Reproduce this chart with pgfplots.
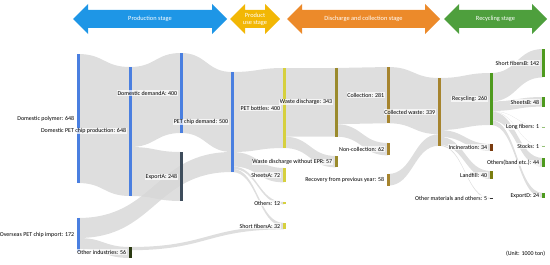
\documentclass[border=0pt]{standalone}
\usepackage{fontspec}
\setmainfont{Carlito}
\usepackage{pgfplots}
\pgfplotsset{compat=1.18}
\definecolor{bandgray}{HTML}{D6D6D6}
\definecolor{cblue}{HTML}{4A7FE0}
\definecolor{cslate}{HTML}{3E4D5C}
\definecolor{cdark}{HTML}{2B3A12}
\definecolor{cyel}{HTML}{D6D03E}
\definecolor{colive}{HTML}{9A8A2C}
\definecolor{cgold}{HTML}{A6842E}
\definecolor{cgreen}{HTML}{4E9A1E}
\definecolor{cbrown}{HTML}{7A3B0E}
\definecolor{cland}{HTML}{7B7D10}
\definecolor{aprod}{HTML}{1E96E6}
\definecolor{ause}{HTML}{F2B705}
\definecolor{adisc}{HTML}{EC8A2A}
\definecolor{arec}{HTML}{4E9F3D}
% link: x1 x2 xm t1 b1 t2 b2
\newcommand\link[7]{%
 \fill[bandgray,fill opacity=0.8] (axis cs:#1,#4) .. controls (axis cs:#3,#4) and (axis cs:#3,#6) .. (axis cs:#2,#6)
   -- (axis cs:#2,#7) .. controls (axis cs:#3,#7) and (axis cs:#3,#5) .. (axis cs:#1,#5) -- cycle;}
% double arrow: x0 x1 colour
\newcommand\stagearrow[3]{%
 \fill[#3] (axis cs:#1,19) -- (axis cs:#1+15,4) -- (axis cs:#1+15,10) -- (axis cs:#2-15,10) -- (axis cs:#2-15,4)
   -- (axis cs:#2,19) -- (axis cs:#2-15,34) -- (axis cs:#2-15,28) -- (axis cs:#1+15,28) -- (axis cs:#1+15,34) -- cycle;}
\tikzset{lab/.style={anchor=east,font=\fontsize{6}{6.5}\selectfont,fill=white,fill opacity=0.7,text opacity=1,inner sep=0.7pt},
 stg/.style={font=\fontsize{6.4}{6.8}\selectfont,text=white,align=center,inner sep=0pt}}
\begin{document}
\begin{tikzpicture}
\begin{axis}[width=550bp,height=264bp,scale only axis,xmin=0,xmax=550,ymin=0,ymax=264,y dir=reverse,hide axis,clip=false]
% links
\link{78}{130}{104}{54}{183}{67}{196}
\link{130}{181}{155.5}{67}{147}{53}{133}
\link{130}{181}{155.5}{147}{196}{152}{201}
\link{78}{232}{155}{218}{238}{152}{172}
\link{78}{130}{104}{238}{249}{247}{258}
\link{181}{232}{206.5}{53}{133}{72}{152}
\link{232}{284}{258}{72}{152}{68}{148}
\link{232}{284}{258}{152}{166.4}{168}{182.4}
\link{232}{284}{258}{166.4}{168.8}{202}{204.4}
\link{232}{284}{258}{168.8}{172}{223}{226.2}
\link{130}{284}{207}{247}{250.2}{226.2}{229.4}
\link{284}{336}{310}{68}{136.6}{68}{136.6}
\link{284}{336}{310}{136.6}{148}{156}{167.4}
\link{336}{388}{362}{68}{124.2}{67}{123.2}
\link{336}{388}{362}{124.2}{136.6}{143}{155.4}
\link{388}{439}{413.5}{67}{123.2}{78}{134.2}
\link{388}{439}{413.5}{174}{185.6}{134.2}{145.8}
\link{439}{491}{465}{78}{130}{73}{125}
\link{439}{491}{465}{130}{136.8}{144}{150.8}
\link{439}{491}{465}{136.8}{144.8}{171}{179}
\link{439}{491}{465}{144.8}{145.8}{198}{199}
\link{491}{543}{517}{73}{101.4}{49}{77.4}
\link{491}{543}{517}{101.4}{111}{97}{106.6}
\link{491}{543}{517}{111}{111.2}{127}{127.2}
\link{491}{543}{517}{111.2}{111.4}{146}{146.2}
\link{491}{543}{517}{111.4}{120.2}{158}{166.8}
\link{491}{543}{517}{120.2}{125}{193}{197.8}
% nodes
\addplot[cblue,line width=3bp] coordinates {(78,54) (78,183)};
\addplot[cblue,line width=3bp] coordinates {(78,218) (78,252)};
\addplot[cblue,line width=3bp] coordinates {(130,67) (130,196)};
\addplot[cdark,line width=3bp] coordinates {(130,247) (130,258)};
\addplot[cblue,line width=3bp] coordinates {(181,53) (181,133)};
\addplot[cslate,line width=3bp] coordinates {(181,152) (181,201)};
\addplot[cblue,line width=3bp] coordinates {(232,72) (232,172)};
\addplot[cyel,line width=3bp] coordinates {(284,68) (284,148)};
\addplot[cyel,line width=3bp] coordinates {(284,168) (284,182.4)};
\addplot[cyel,line width=3bp] coordinates {(284,202) (284,204.4)};
\addplot[cyel,line width=3bp] coordinates {(284,223) (284,229.4)};
\addplot[colive,line width=3bp] coordinates {(336,68) (336,136.6)};
\addplot[colive,line width=3bp] coordinates {(336,156) (336,167.4)};
\addplot[cgold,line width=3bp] coordinates {(388,67) (388,123.2)};
\addplot[cgold,line width=3bp] coordinates {(388,143) (388,155.4)};
\addplot[cgold,line width=3bp] coordinates {(388,174) (388,185.6)};
\addplot[cgold,line width=3bp] coordinates {(439,78) (439,145.8)};
\addplot[cgreen,line width=3bp] coordinates {(491,73) (491,125)};
\addplot[cbrown,line width=3bp] coordinates {(491,144) (491,150.8)};
\addplot[cland,line width=3bp] coordinates {(491,171) (491,179)};
\addplot[black!80,line width=3bp] coordinates {(491,197.8) (491,199)};
\addplot[cgreen,line width=3bp] coordinates {(543,49) (543,77.4)};
\addplot[cgreen,line width=3bp] coordinates {(543,97) (543,106.6)};
\addplot[cgreen!60,line width=3bp] coordinates {(543,126.6) (543,127.6)};
\addplot[cgreen!60,line width=3bp] coordinates {(543,145.6) (543,146.6)};
\addplot[cgreen,line width=3bp] coordinates {(543,158) (543,166.8)};
\addplot[cgreen,line width=3bp] coordinates {(543,193) (543,197.8)};
% labels
\node[lab] at (axis cs:75,119) {Domestic polymer: 648};
\node[lab] at (axis cs:75,235) {Overseas PET chip import: 172};
\node[lab] at (axis cs:127,131) {Domestic PET chip production: 648};
\node[lab] at (axis cs:127,252) {Other industries: 56};
\node[lab] at (axis cs:178,93) {Domestic demandA: 400};
\node[lab] at (axis cs:178,177) {ExportA: 248};
\node[lab] at (axis cs:229,122) {PET chip demand: 500};
\node[lab] at (axis cs:281,108) {PET bottles: 400};
\node[lab] at (axis cs:281,175) {SheetsA: 72};
\node[lab] at (axis cs:281,203) {Others: 12};
\node[lab] at (axis cs:281,226) {Short fibersA: 32};
\node[lab] at (axis cs:333,102) {Waste discharge: 343};
\node[lab] at (axis cs:333,162) {Waste discharge without EPR: 57};
\node[lab] at (axis cs:385,95) {Collection: 281};
\node[lab] at (axis cs:385,149) {Non-collection: 62};
\node[lab] at (axis cs:385,180) {Recovery from previous year: 58};
\node[lab] at (axis cs:436,112) {Collected waste: 339};
\node[lab] at (axis cs:488,99) {Recycling: 260};
\node[lab] at (axis cs:488,147) {Incineration: 34};
\node[lab] at (axis cs:488,175) {Landfill: 40};
\node[lab] at (axis cs:488,198) {Other materials and others: 5};
\node[lab] at (axis cs:540,63) {Short fibersB: 142};
\node[lab] at (axis cs:540,102) {SheetsB: 48};
\node[lab] at (axis cs:540,127) {Long fibers: 1};
\node[lab] at (axis cs:540,146) {Stocks: 1};
\node[lab] at (axis cs:540,163) {Others(band etc.): 44};
\node[lab] at (axis cs:540,196) {ExportD: 24};
\node[lab,anchor=east,fill=none] at (axis cs:546,254) {(Unit: 1000 ton)};
% stage arrows
\stagearrow{73}{227}{aprod}
\stagearrow{230}{280}{ause}
\stagearrow{287}{440}{adisc}
\stagearrow{444}{547}{arec}
\node[stg] at (axis cs:150,19) {Production stage};
\node[stg] at (axis cs:255,19) {Product\\use stage};
\node[stg] at (axis cs:363.5,19) {Discharge and collection stage};
\node[stg] at (axis cs:495.5,19) {Recycling stage};
\end{axis}
\pgfresetboundingbox
\path (current axis.south west) rectangle (current axis.north east);
\end{tikzpicture}
\end{document}
